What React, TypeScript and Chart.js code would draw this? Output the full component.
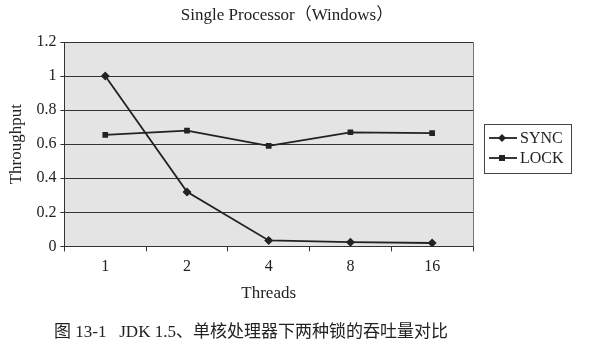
import React, { useEffect, useRef } from "react";
import { Chart, registerables } from "chart.js";

Chart.register(...registerables);

const categories = ["1", "2", "4", "8", "16"];
const syncValues = [1.0, 0.32, 0.035, 0.025, 0.02];
const lockValues = [0.655, 0.68, 0.59, 0.67, 0.665];
const yTicks = [0, 0.2, 0.4, 0.6, 0.8, 1, 1.2];
const titleText = "Single Processor（Windows）";
const captionText = "图 13-1   JDK 1.5、单核处理器下两种锁的吞吐量对比";
const seriesNames = ["SYNC", "LOCK"];

const SERIF = '"Liberation Serif", "Noto Sans CJK SC", serif';
const INK = "#222";

const decorPlugin = {
  id: "decor",
  beforeDraw(chart: any) {
    const { ctx, chartArea } = chart;
    ctx.save();
    ctx.fillStyle = "#e4e4e4";
    ctx.fillRect(chartArea.left, chartArea.top, chartArea.right - chartArea.left, chartArea.bottom - chartArea.top);
    ctx.restore();
  },
  afterDraw(chart: any) {
    const { ctx, chartArea } = chart;
    ctx.save();
    ctx.strokeStyle = "#777";
    ctx.lineWidth = 1;
    ctx.beginPath();
    ctx.moveTo(chartArea.right + 0.5, chartArea.top);
    ctx.lineTo(chartArea.right + 0.5, chartArea.bottom);
    ctx.stroke();

    // title
    ctx.fillStyle = INK;
    ctx.font = "17px " + SERIF;
    ctx.textAlign = "center";
    ctx.textBaseline = "middle";
    ctx.fillText(titleText, 287, 16);

    // caption
    ctx.font = "17px " + SERIF;
    ctx.fillText(captionText, 251, 333);

    // legend
    const lx = 484, ly = 124, lw = 87, lh = 49;
    ctx.fillStyle = "#fff";
    ctx.fillRect(lx, ly, lw, lh);
    ctx.strokeStyle = "#444";
    ctx.lineWidth = 1;
    ctx.strokeRect(lx + 0.5, ly + 0.5, lw, lh);
    chart.data.datasets.forEach((ds: any, i: number) => {
      const y = ly + 14 + i * 20;
      ctx.strokeStyle = INK;
      ctx.lineWidth = 1.8;
      ctx.beginPath();
      ctx.moveTo(lx + 5, y);
      ctx.lineTo(lx + 33, y);
      ctx.stroke();
      ctx.fillStyle = INK;
      const cx = lx + 18;
      if (ds.pointStyle === "rectRot") {
        ctx.beginPath();
        ctx.moveTo(cx, y - 4);
        ctx.lineTo(cx + 4, y);
        ctx.lineTo(cx, y + 4);
        ctx.lineTo(cx - 4, y);
        ctx.closePath();
        ctx.fill();
      } else {
        ctx.fillRect(cx - 3, y - 3, 6, 6);
      }
      ctx.font = "16px " + SERIF;
      ctx.textAlign = "left";
      ctx.textBaseline = "middle";
      ctx.fillText(ds.label, lx + 36, y + 1);
    });
    ctx.restore();
  },
};

export default function App() {
  const ref = useRef<HTMLCanvasElement | null>(null);
  useEffect(() => {
    document.body.style.margin = "0";
    const c = new Chart(ref.current as HTMLCanvasElement, {
      type: "line",
      data: {
        labels: categories,
        datasets: [
          {
            label: seriesNames[0],
            data: syncValues,
            borderColor: INK,
            backgroundColor: INK,
            borderWidth: 1.8,
            pointStyle: "rectRot",
            pointRadius: 4.5,
            pointBorderWidth: 0,
            tension: 0,
          },
          {
            label: seriesNames[1],
            data: lockValues,
            borderColor: INK,
            backgroundColor: INK,
            borderWidth: 1.8,
            pointStyle: "rect",
            pointRadius: 4,
            pointBorderWidth: 0,
            tension: 0,
          },
        ],
      },
      options: {
        animation: false,
        responsive: false,
        layout: { padding: { top: 42, right: 127, bottom: 47, left: 6 } },
        plugins: {
          legend: { display: false },
          title: { display: false },
          tooltip: { enabled: false },
        },
        scales: {
          x: {
            offset: true,
            grid: {
              offset: true,
              drawOnChartArea: false,
              drawTicks: true,
              tickLength: 5,
              color: "#333",
            },
            border: { color: "#333", width: 1 },
            ticks: { color: INK, font: { family: SERIF, size: 16 }, padding: 6 },
            title: {
              display: true,
              text: "Threads",
              color: INK,
              font: { family: SERIF, size: 17 },
              padding: { top: 1, bottom: 0 },
            },
          },
          y: {
            min: 0,
            max: 1.2,
            afterBuildTicks(scale: any) {
              scale.ticks = yTicks.map((v) => ({ value: v }));
            },
            grid: { color: "#333", lineWidth: 1, tickLength: 4 },
            border: { color: "#333", width: 1 },
            ticks: {
              color: INK,
              font: { family: SERIF, size: 16 },
              padding: 4,
              callback: (v: any) => String(Math.round(Number(v) * 10) / 10),
            },
            title: {
              display: true,
              text: "Throughput",
              color: INK,
              font: { family: SERIF, size: 17 },
              padding: { top: 0, bottom: 6 },
            },
          },
        },
      },
      plugins: [decorPlugin],
    });
    return () => c.destroy();
  }, []);
  return (
    <div style={{ width: 600, height: 351, background: "#fff" }}>
      <canvas ref={ref} width={600} height={351} />
    </div>
  );
}
